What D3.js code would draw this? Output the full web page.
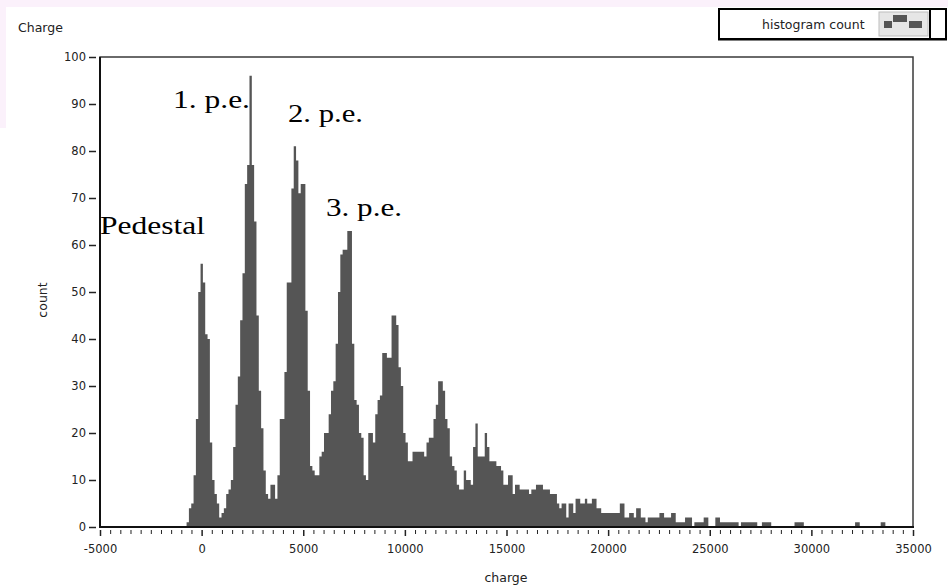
<!DOCTYPE html>
<html>
<head>
<meta charset="utf-8">
<script src="https://cdn.jsdelivr.net/npm/d3@7"></script>
<style>
  body { margin: 0; background: #fff; }
  svg { display: block; }
  .tick text { font-family: "DejaVu Sans", sans-serif; font-size: 11.5px; fill: #222; }
</style>
</head>
<body>
<svg id="chart" width="948" height="587"></svg>
<script>
// histogram: 300 equal bins starting at binStart
const binStart = -740;
const binWidth = 114.6;
const counts = [
  1,4,5,11,23,50,56,52,41,40,18,10,7,5,2,3,4,7,
  8,10,17,26,32,44,54,73,77,96,77,65,45,29,21,12,7,6,
  9,9,6,11,23,23,33,52,52,72,81,78,71,73,73,46,29,13,
  12,11,11,15,16,20,20,24,29,31,39,50,58,59,59,63,63,39,
  27,26,20,19,11,10,20,20,18,24,27,28,37,37,36,36,45,45,
  43,34,30,20,18,14,14,16,16,16,16,16,15,18,19,19,23,26,
  31,31,29,23,21,15,13,12,9,8,8,12,10,10,9,17,22,15,
  15,15,20,17,14,14,14,13,13,12,9,9,11,11,7,9,9,8,
  8,8,8,7,8,8,9,9,9,8,8,8,7,7,7,5,4,5,
  5,2,5,5,3,6,6,5,5,6,5,5,6,6,4,4,3,3,
  3,3,3,3,3,3,5,5,2,2,3,3,2,4,4,2,2,1,
  2,2,2,2,2,3,3,2,2,2,3,3,1,1,1,1,2,2,
  2,0,1,1,1,1,2,2,0,0,0,2,2,1,1,1,1,1,
  1,1,1,0,1,1,1,1,1,1,1,0,0,1,1,1,1,0,
  0,0,0,0,0,0,0,0,0,1,1,1,1,0,0,0,0,0,
  0,0,0,0,0,0,0,0,0,0,0,0,0,0,0,0,0,1,
  1,0,0,0,0,0,0,0,0,0,1,1
];
const xTicks = [-5000, 0, 5000, 10000, 15000, 20000, 25000, 30000, 35000];
const yTicks = [0, 10, 20, 30, 40, 50, 60, 70, 80, 90, 100];
const peakLabels = ["Pedestal", "1. p.e.", "2. p.e.", "3. p.e."];

const svg = d3.select("#chart");

// faint tint of the captured window edge
svg.append("rect").attr("x", 0).attr("y", 0).attr("width", 948).attr("height", 7).attr("fill", "#fbf1fb");
svg.append("rect").attr("x", 0).attr("y", 0).attr("width", 6).attr("height", 128).attr("fill", "#fbf1fb");

const plotLeft = 100, plotRight = 913, plotTop = 57, plotBottom = 527;

const x = d3.scaleLinear().domain([-5000, 35000]).range([plotLeft, plotRight]);
const y = d3.scaleLinear().domain([0, 100]).range([plotBottom, plotTop]);

// frame
svg.append("rect")
  .attr("x", plotLeft).attr("y", plotTop)
  .attr("width", plotRight - plotLeft).attr("height", plotBottom - plotTop)
  .attr("fill", "#fff")
  .attr("stroke", "#3a3a3a")
  .attr("stroke-width", 1.5);

// bars, drawn as one stepped area so neighbouring bins have no seams
const steps = counts.map((c, i) => ({ edge: binStart + i * binWidth, c: c }));
steps.push({ edge: binStart + counts.length * binWidth, c: counts[counts.length - 1] });

const area = d3.area()
  .x(d => x(d.edge))
  .y0(y(0))
  .y1(d => y(d.c))
  .curve(d3.curveStepAfter);

svg.append("path")
  .datum(steps)
  .attr("d", area)
  .attr("fill", "#555555");

// axis lines (heavier on left and bottom)
svg.append("line").attr("x1", plotLeft).attr("x2", plotLeft).attr("y1", plotTop).attr("y2", plotBottom + 1)
  .attr("stroke", "#111").attr("stroke-width", 2);
svg.append("line").attr("x1", plotLeft - 1).attr("x2", plotRight + 1).attr("y1", plotBottom).attr("y2", plotBottom)
  .attr("stroke", "#111").attr("stroke-width", 2);

const fmt = d => String(d);

// y axis
svg.append("g")
  .attr("transform", `translate(${plotLeft - 4},0)`)
  .call(d3.axisLeft(y).tickValues(yTicks).tickSize(7).tickPadding(3).tickFormat(fmt))
  .call(g => g.select(".domain").remove())
  .call(g => g.selectAll(".tick line").attr("stroke", "#222").attr("stroke-width", 1.5));

// x axis minor ticks
const minor = d3.range(-5000, 35001, 500).filter(v => v % 5000 !== 0);
svg.append("g")
  .attr("transform", `translate(0,${plotBottom + 3})`)
  .call(d3.axisBottom(x).tickValues(minor).tickSize(4).tickFormat(""))
  .call(g => g.select(".domain").remove())
  .call(g => g.selectAll(".tick line").attr("stroke", "#222").attr("stroke-width", 1));

// x axis major ticks
svg.append("g")
  .attr("transform", `translate(0,${plotBottom + 3})`)
  .call(d3.axisBottom(x).tickValues(xTicks).tickSize(6).tickPadding(9).tickFormat(fmt))
  .call(g => g.select(".domain").remove())
  .call(g => g.selectAll(".tick line").attr("stroke", "#222").attr("stroke-width", 1.5));

// axis titles
const labelFont = g => g.style("font-family", "DejaVu Sans, sans-serif").style("font-size", "12.5px").attr("fill", "#222");

svg.append("text")
  .attr("x", 506).attr("y", 582)
  .attr("text-anchor", "middle")
  .call(labelFont)
  .text("charge");

svg.append("text")
  .attr("transform", "translate(47,300) rotate(-90)")
  .attr("text-anchor", "middle")
  .call(labelFont)
  .text("count");

svg.append("text")
  .attr("x", 18).attr("y", 32)
  .call(labelFont)
  .text("Charge");

// legend
const lg = svg.append("g");
lg.append("rect").attr("x", 719).attr("y", 9).attr("width", 227).attr("height", 30)
  .attr("fill", "#fff").attr("stroke", "#000").attr("stroke-width", 2);
lg.append("line").attr("x1", 718).attr("x2", 947).attr("y1", 39.5).attr("y2", 39.5)
  .attr("stroke", "#000").attr("stroke-width", 2);
lg.append("text").attr("x", 762).attr("y", 29)
  .call(labelFont)
  .text("histogram count");
lg.append("rect").attr("x", 879).attr("y", 12).attr("width", 49).attr("height", 24)
  .attr("fill", "#e6e6e6").attr("stroke", "#bdbdbd").attr("stroke-width", 1);
lg.append("line").attr("x1", 930).attr("x2", 930).attr("y1", 10).attr("y2", 38)
  .attr("stroke", "#000").attr("stroke-width", 2);
[[884, 21, 8, 7], [893, 15, 14, 7], [909, 21, 13, 7]].forEach(r => {
  lg.append("rect").attr("x", r[0]).attr("y", r[1]).attr("width", r[2]).attr("height", r[3]).attr("fill", "#555");
});

// peak annotations
const ann = [
  { t: peakLabels[0], x: 100, y: 234, w: 105 },
  { t: peakLabels[1], x: 173, y: 108, w: 77 },
  { t: peakLabels[2], x: 288, y: 122, w: 75 },
  { t: peakLabels[3], x: 326, y: 216, w: 76 }
];
svg.append("g")
  .selectAll("text")
  .data(ann)
  .enter()
  .append("text")
  .attr("x", d => d.x).attr("y", d => d.y)
  .attr("textLength", d => d.w)
  .attr("lengthAdjust", "spacingAndGlyphs")
  .style("font-family", "'Liberation Serif', 'Times New Roman', serif")
  .style("font-size", "25px")
  .attr("fill", "#000")
  .text(d => d.t);
</script>
</body>
</html>
